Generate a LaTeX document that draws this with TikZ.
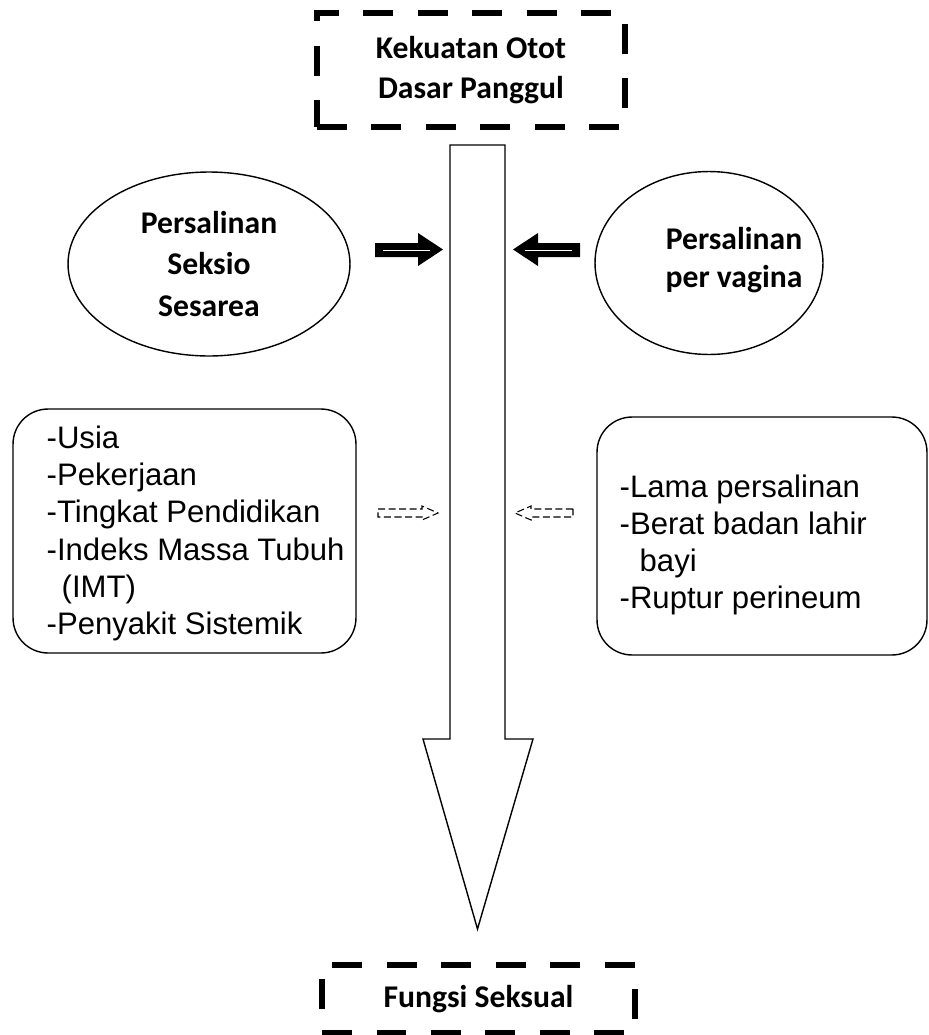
\documentclass[tikz,border=0pt]{standalone}
\usepackage{fontspec}
\setmainfont{Liberation Sans}
\newfontfamily\calibri{Carlito}
\usepackage{tikz}
\usetikzlibrary{positioning,shapes.geometric}
\tikzset{
  outcome/.style={draw=black,line width=3.4pt,dash pattern=on 17pt off 14pt,align=center,
    font=\calibri\bfseries\fontsize{18}{22.5}\selectfont},
  method/.style={shape=ellipse,draw=black,thick,align=center,
    font=\calibri\bfseries\fontsize{18}{23.5}\selectfont},
  methodtext/.style={align=center,font=\calibri\bfseries\fontsize{18}{21.5}\selectfont},
  factor/.style={draw=black,thick,rounded corners=0.7cm},
  factortext/.style={align=left,inner sep=0pt,font=\fontsize{17.7}{21.2}\selectfont},
  push/.style={fill=black},
  hint/.style={draw=black,line width=0.6pt,dash pattern=on 4pt off 2pt},
  flow/.style={draw=black,thick,fill=white}
}

\begin{document}
\begin{tikzpicture}[x=0.02cm,y=-0.02cm]
  \useasboundingbox (0,0) rectangle (929,1035);
  % main flow
  \coordinate (shafttop) at (477.5,145);
  \coordinate (tip) at (477.5,929);
  \draw[flow] (450,145) -- (505,145) -- (505,739) -- (533,739) -- (tip)
    -- (423,739) -- (450,739) -- cycle;
  \node[outcome,minimum width=6.16cm,minimum height=2.28cm] (kekuatan) at (471,70)
    {Kekuatan Otot\\Dasar Panggul};
  \node[outcome,minimum width=6.26cm,minimum height=1.36cm] (fungsi) at (478.5,999)
    {Fungsi Seksual};
  % delivery type
  \node[method,minimum width=5.64cm,minimum height=3.68cm] (sesarea) at (209,264)
    {Persalinan\\Seksio\\Sesarea};
  \node[method,minimum width=4.56cm,minimum height=3.66cm] (vagina) at (709,263) {};
  \node[methodtext] (vaginatext) at (734,260) {Persalinan\\per vagina};
  \fill[push] (375,243) -- (418,243) -- (418,233) -- (443,249.5) -- (418,266)
    -- (418,257) -- (375,257) -- cycle;
  \draw[white,line width=0.5pt] (383,250) -- (430,250);
  \fill[push] (580,243) -- (538,243) -- (538,233) -- (513,249.5) -- (538,266)
    -- (538,257) -- (580,257) -- cycle;
  \draw[white,line width=0.5pt] (572,250) -- (525,250);
  % other factors
  \node[factor,minimum width=6.86cm,minimum height=4.88cm] (umum) at (184.5,531) {};
  \node[factortext,right=0.68cm of umum.west,yshift=-0.05cm] (umumlist)
    {-Usia\\-Pekerjaan\\-Tingkat Pendidikan\\-Indeks Massa Tubuh\\\hspace*{0.3cm}(IMT)\\-Penyakit Sistemik};
  \node[factor,minimum width=6.6cm,minimum height=4.76cm] (obstetri) at (762,536) {};
  \node[factortext,right=0.46cm of obstetri.west,yshift=-0.18cm] (obstetrilist)
    {-Lama persalinan\\-Berat badan lahir\\\hspace*{0.4cm}bayi\\-Ruptur perineum};
  \draw[hint] (378,509) -- (422,509) -- (422,506) -- (438,513) -- (422,520)
    -- (422,517) -- (378,517) -- cycle;
  \draw[hint] (573,509) -- (531,509) -- (531,506) -- (515,513) -- (531,520)
    -- (531,517) -- (573,517) -- cycle;
\end{tikzpicture}
\end{document}
